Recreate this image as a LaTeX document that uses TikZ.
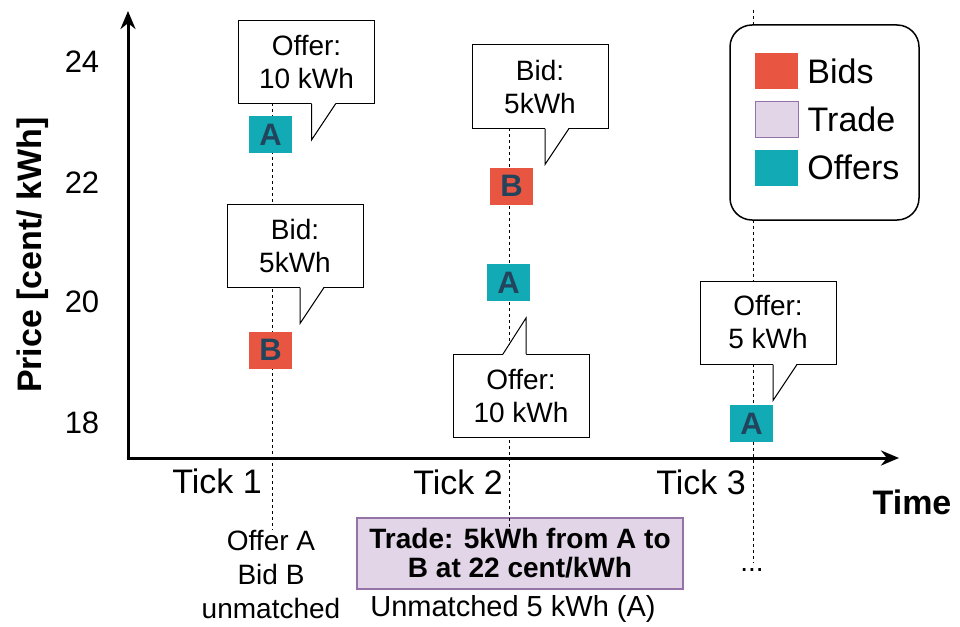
\documentclass[tikz,border=0pt]{standalone}
\usepackage{fontspec}
\setmainfont{Liberation Sans}
\usetikzlibrary{arrows.meta}
\definecolor{bidred}{HTML}{E85642}
\definecolor{offerteal}{HTML}{12AAB5}
\definecolor{navy}{HTML}{23445D}
\definecolor{tradefill}{HTML}{E1D5E7}
\definecolor{tradedraw}{HTML}{9673A6}
\newcommand*\fsz[2]{\fontsize{#1}{#2}\selectfont}
\newcommand*\downtail[1]{
  \fill[white,shift={(#1.south)}] (5,-1) -- (5,36) -- (29,-1) -- cycle;
  \draw[line width=1pt,shift={(#1.south)}] (5,0) -- (5,36) -- (29,0);}
\newcommand*\uptail[1]{
  \fill[white,shift={(#1.north)}] (-18,1) -- (5,-36) -- (5,1) -- cycle;
  \draw[line width=1pt,shift={(#1.north)}] (-18,0) -- (5,-36) -- (5,0);}

\tikzset{
  bubble/.style={draw,fill=white,line width=1pt,minimum width=136pt,minimum height=83pt,
    inner sep=0pt,align=center,font=\fsz{28}{33}},
  sq/.style={minimum width=43pt,minimum height=37pt,inner sep=0pt,text=navy,font=\bfseries\fsz{31}{31}},
  swatch/.style={minimum width=43pt,minimum height=36pt,inner sep=0pt},
  tickline/.style={line width=1pt,dash pattern=on 3pt off 3pt},
  axis/.style={line width=3pt,-{Stealth[length=18pt,width=15pt]}},
  lbl/.style={inner sep=0pt,font=\fsz{34}{40}},
  small/.style={inner sep=0pt,align=center,font=\fsz{28}{34}}
}

\begin{document}
\begin{tikzpicture}[x=1pt,y=-1pt]
\useasboundingbox (0,0) rectangle (960,626);

\node[draw=tradedraw,fill=tradefill,line width=1.2pt,minimum width=326pt,minimum height=71pt,
  inner sep=0pt,align=center,font=\bfseries\fsz{28}{29}] (trade) at (520,553.5)
  {Trade: 5kWh from A to\\B at 22 cent/kWh};

% time lines of the three ticks
\coordinate (t1top) at (272,25);
\coordinate (t1bot) at (272,530);
\coordinate (t2top) at (509,50);
\coordinate (t2bot) at (509,528);
\coordinate (t3top) at (753,10);
\coordinate (t3bot) at (753,563);
\draw[tickline] (t1top) -- (t1bot);
\draw[tickline] (t2top) -- (t2bot);
\draw[tickline] (t3top) -- (t3bot);

\coordinate (origin) at (128,458);
\coordinate (ytop) at (128,11);
\coordinate (xend) at (899,458);
\draw[axis] (origin) -- (ytop);
\draw[axis] ([xshift=-1.5pt]origin) -- (xend);

\node[sq,fill=offerteal] (a1) at (270.5,134.5) {A};
\node[sq,fill=bidred] (b1) at (270.5,350) {B};
\node[sq,fill=bidred] (b2) at (511.5,186) {B};
\node[sq,fill=offerteal] (a2) at (508.5,282.5) {A};
\node[sq,fill=offerteal] (a3) at (751.5,423.5) {A};

\node[bubble] (off1) at (306.5,62) {Offer:\\10 kWh};
\downtail{off1}
\node[bubble] (bid1) at (295,245.5) {Bid:\\5kWh};
\downtail{bid1}
\node[bubble] (bid2) at (540,86.5) {Bid:\\5kWh};
\downtail{bid2}
\node[bubble] (off2) at (521,396) {Offer:\\10 kWh};
\uptail{off2}
\node[bubble] (off3) at (768,322.5) {Offer:\\5 kWh};
\downtail{off3}

\node[draw,fill=white,line width=1.5pt,rounded corners=22pt,minimum width=189pt,
  minimum height=195pt] (legend) at (824.5,122.5) {};
\node[swatch,fill=bidred] (kbid) at (776.5,71) {};
\node[swatch,fill=tradefill,draw=tradedraw,line width=1pt] (ktrade) at (776.5,119.5) {};
\node[swatch,fill=offerteal] (koffer) at (776.5,167.5) {};
\node[lbl,anchor=west] at ([xshift=9pt]kbid.east) {Bids};
\node[lbl,anchor=west] at ([xshift=9pt]ktrade.east) {Trade};
\node[lbl,anchor=west] at ([xshift=9pt]koffer.east) {Offers};

\node[lbl,font=\fsz{31}{31}] (p24) at (82,62) {24};
\node[lbl,font=\fsz{31}{31}] (p22) at (82,183) {22};
\node[lbl,font=\fsz{31}{31}] (p20) at (82,302) {20};
\node[lbl,font=\fsz{31}{31}] (p18) at (82,423) {18};
\node[lbl,font=\bfseries\fsz{34}{40},rotate=90] (price) at (33,255) {Price [cent/ kWh]};
\node[lbl,font=\bfseries\fsz{34}{40}] (time) at (912,502) {Time};

\node[lbl] (tick1) at (217,481) {Tick 1};
\node[lbl] (tick2) at (458,482) {Tick 2};
\node[lbl] (tick3) at (701,482) {Tick 3};

\node[small] (res1) at (271,574) {Offer A\\Bid B\\unmatched};
\node[small,font=\fsz{29}{34}] (res2) at (513,609) {Unmatched 5 kWh (A)};
\node[small] (more) at (752,570) {...};
\end{tikzpicture}
\end{document}
